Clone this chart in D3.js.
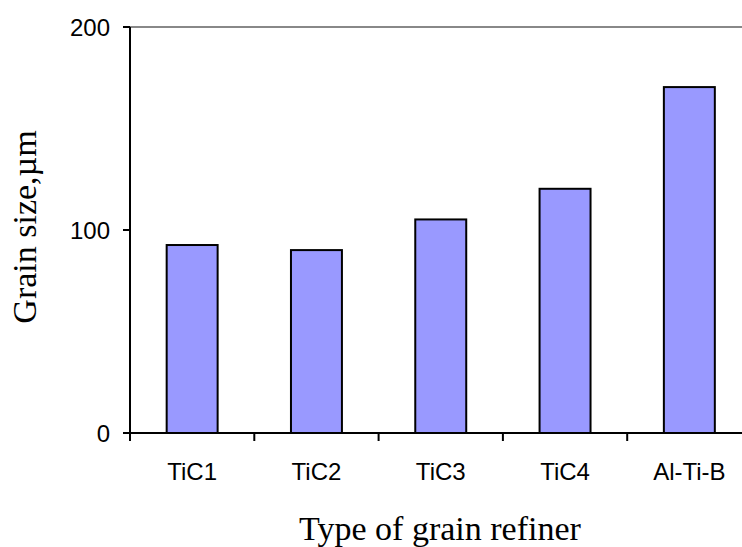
<!DOCTYPE html>
<html>
<head>
<meta charset="utf-8">
<script src="https://cdn.jsdelivr.net/npm/d3@7"></script>
<style>
	body { margin: 0; background: #fff; }
	.tick-label { font-family: "Liberation Sans", Arial, sans-serif; font-size: 24px; fill: #000; }
	.axis-title { font-family: "Liberation Serif", "Times New Roman", serif; font-size: 34px; fill: #000; }
</style>
</head>
<body>
<div id="root"></div>
<script>
const refiners = ["TiC1", "TiC2", "TiC3", "TiC4", "Al-Ti-B"];
const grainSize = [92.6, 90.1, 105.2, 120.3, 170.4];
const yTicks = [0, 100, 200];

function drawChart() {
	const width = 742;
	const height = 547;
	const margin = {top: 27, left: 130, bottom: 114};
	const plotRight = 751.5;

	let svg = d3.select("#root")
				.append("svg")
				.attr("width", width)
				.attr("height", height);

	const x = d3.scaleBand()
		.domain(refiners)
		.range([margin.left, plotRight])
		.padding(0);

	const y = d3.scaleLinear()
		.domain([0, 200])
		.range([height - margin.bottom, margin.top]);

	// gridline at the top value
	svg.append("line")
		.attr("x1", margin.left).attr("x2", width)
		.attr("y1", y(200)).attr("y2", y(200))
		.attr("stroke", "#888").attr("stroke-width", 2);

	// bars
	const barW = x.bandwidth() * 0.41;
	svg.selectAll(".bar")
		.data(refiners)
		.enter()
		.append("rect")
		.attr("class", "bar")
		.attr("x", (d) => x(d) + (x.bandwidth() - barW) / 2)
		.attr("y", (d, i) => y(grainSize[i]))
		.attr("width", barW)
		.attr("height", (d, i) => y(0) - y(grainSize[i]))
		.attr("fill", "#9999ff")
		.attr("stroke", "#000")
		.attr("stroke-width", 2);

	// y axis
	svg.append("line")
		.attr("x1", margin.left).attr("x2", margin.left)
		.attr("y1", y(200)).attr("y2", y(0) + 8)
		.attr("stroke", "#000").attr("stroke-width", 2);

	svg.selectAll(".ytick")
		.data(yTicks)
		.enter()
		.append("line")
		.attr("x1", margin.left - 7).attr("x2", margin.left)
		.attr("y1", (d) => y(d)).attr("y2", (d) => y(d))
		.attr("stroke", "#000").attr("stroke-width", 2);

	svg.selectAll(".ylabel")
		.data(yTicks)
		.enter()
		.append("text")
		.attr("class", "tick-label")
		.attr("x", margin.left - 20)
		.attr("y", (d) => y(d) + 8.5)
		.attr("text-anchor", "end")
		.text((d) => d);

	// x axis
	svg.append("line")
		.attr("x1", margin.left - 7).attr("x2", width)
		.attr("y1", y(0)).attr("y2", y(0))
		.attr("stroke", "#000").attr("stroke-width", 2);

	svg.selectAll(".xtick")
		.data(refiners)
		.enter()
		.append("line")
		.attr("x1", (d) => x(d)).attr("x2", (d) => x(d))
		.attr("y1", y(0)).attr("y2", y(0) + 8)
		.attr("stroke", "#000").attr("stroke-width", 2);

	svg.selectAll(".xlabel")
		.data(refiners)
		.enter()
		.append("text")
		.attr("class", "tick-label")
		.attr("x", (d) => x(d) + x.bandwidth() / 2)
		.attr("y", y(0) + 47)
		.attr("text-anchor", "middle")
		.text((d) => d);

	// axis titles
	svg.append("text")
		.attr("class", "axis-title")
		.attr("x", 440)
		.attr("y", 540)
		.attr("text-anchor", "middle")
		.text("Type of grain refiner");

	svg.append("text")
		.attr("class", "axis-title")
		.attr("transform", "translate(36,227) rotate(-90)")
		.attr("text-anchor", "middle")
		.text("Grain size,µm");
}

drawChart();
</script>
</body>
</html>
